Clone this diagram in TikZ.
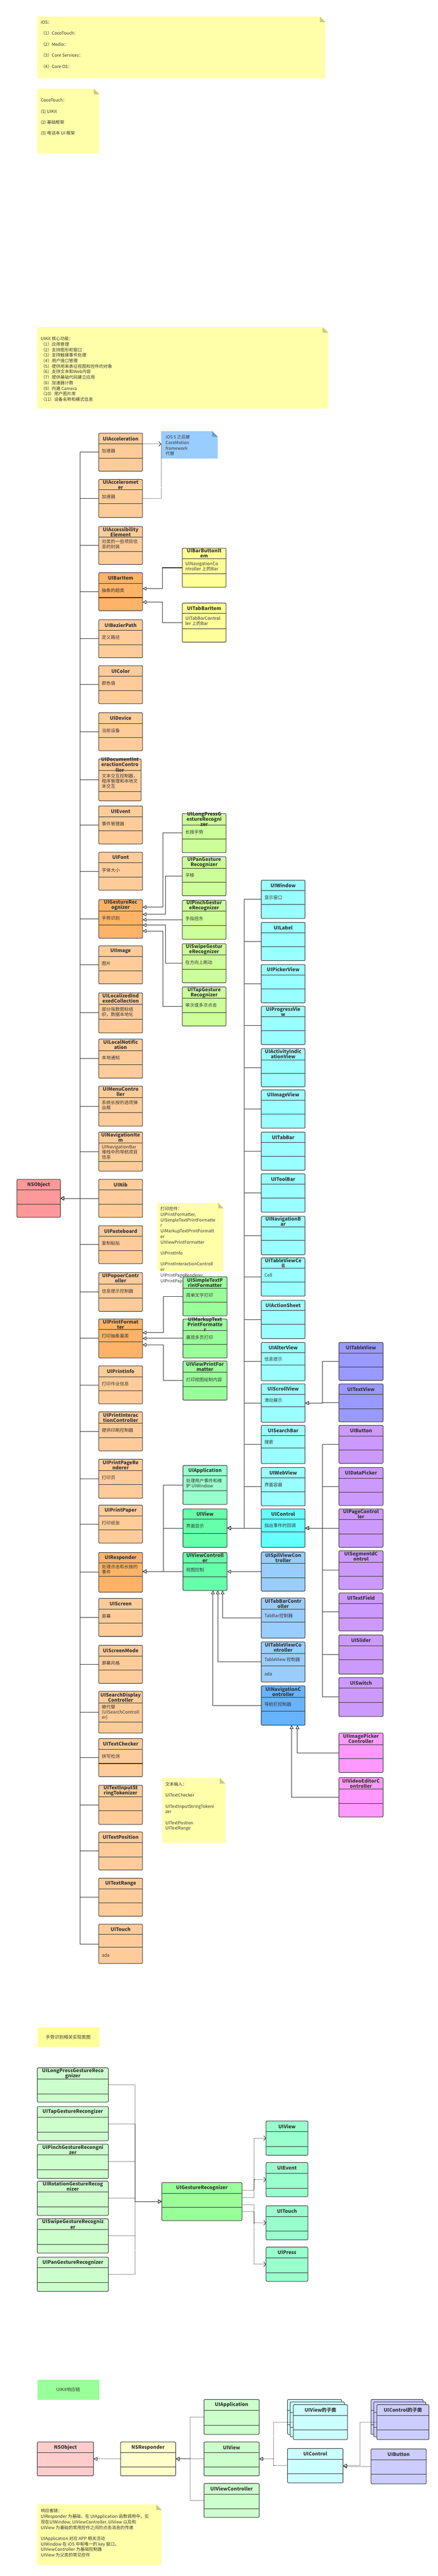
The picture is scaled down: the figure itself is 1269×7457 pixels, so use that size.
\documentclass[tikz,border=0pt]{standalone}
\usepackage{fontspec}
\setmainfont{Noto Sans CJK SC}
\usetikzlibrary{arrows.meta}
\definecolor{linec}{HTML}{333333}
\definecolor{txt}{HTML}{333333}
\definecolor{orL}{HTML}{FFCC99}
\definecolor{orD}{HTML}{FFB366}
\definecolor{yel}{HTML}{FFFF99}
\definecolor{grG}{HTML}{CCFF99}
\definecolor{grP}{HTML}{99FF99}
\definecolor{cyA}{HTML}{99FFFF}
\definecolor{cyB}{HTML}{66FFFF}
\definecolor{grA}{HTML}{99FFCC}
\definecolor{grV}{HTML}{66FFAA}
\definecolor{blA}{HTML}{99CCFF}
\definecolor{blB}{HTML}{66B3FF}
\definecolor{puA}{HTML}{CC99FF}
\definecolor{puB}{HTML}{9999FF}
\definecolor{pkA}{HTML}{FF99FF}
\definecolor{rdA}{HTML}{FF9999}
\definecolor{noteY}{HTML}{FFFFAA}
\definecolor{foldY}{HTML}{CCCC77}
\definecolor{foldB}{HTML}{6699CC}
\definecolor{gsL}{HTML}{CCFFCC}
\definecolor{rdL}{HTML}{FFCCCC}
\definecolor{yeL}{HTML}{FFFFCC}
\definecolor{cyL}{HTML}{CCFFFF}
\definecolor{puL}{HTML}{CCCCFF}
\tikzset{
  clsbox/.style={draw=linec,line width=1.5pt,rounded corners=3pt,inner sep=0pt,outer sep=0pt},
  divline/.style={draw=linec,line width=1.5pt},
  ttl/.style={font=\bfseries\fontsize{14}{15}\selectfont,text=txt,align=center,inner sep=0pt},
  bdy/.style={font=\fontsize{13}{15}\selectfont,text=txt,align=left,anchor=west,inner sep=0pt},
  notetxt/.style={font=\fontsize{12.5}{16}\selectfont,text=txt,align=left,anchor=north west,inner sep=0pt},
  conn/.style={draw=linec,line width=1.5pt},
  gen/.style={conn,-{Triangle[length=11pt,width=11pt,fill=white]}},
  dotln/.style={draw=linec,line width=1.4pt,dash pattern=on 1.4pt off 1.6pt},
  real/.style={dotln,-{Triangle[length=11pt,width=11pt,fill=white]}},
  dep/.style={dotln,-{Straight Barb[length=6pt,width=14pt]}}
}
\pgfkeys{/umlc/.cd,
  w/.store in=\cW, h/.store in=\cH, hh/.store in=\cHH, mh/.store in=\cMH, bot/.store in=\cBot}
% [opts]{name}{x}{y}{fill}{title}{body}
\newcommand\umlcls[7][]{%
  \pgfkeys{/umlc/.cd,w=127,h=110,hh=31,mh=41,bot=,#1}%
  \node[clsbox,fill=#5,minimum width=\cW pt,minimum height=\cH pt,anchor=north west] (#2) at (#3,#4) {};%
  \draw[divline] (#3,#4+\cHH) -- ++(\cW,0);%
  \draw[divline] (#3,#4+\cHH+\cMH) -- ++(\cW,0);%
  \node[ttl] at (#3+\cW/2,#4+\cHH/2) {#6};%
  \node[bdy] at (#3+9,#4+\cHH+\cMH/2) {#7};%
  \ifx\cBot\empty\else\node[bdy] at (#3+9,#4+\cHH/2+\cMH/2+\cH/2) {\cBot};\fi
}
% {name}{x}{y}{w}{h}{fill}{fold}
\newcommand\umlnote[7]{%
  \node[fill=#6,minimum width=#4pt,minimum height=#5pt,anchor=north west,inner sep=0pt,outer sep=0pt] (#1) at (#2,#3) {};%
  \fill[white] ([xshift=-16pt]#1.north east) -- (#1.north east) -- ([yshift=-16pt]#1.north east) -- cycle;%
  \fill[#7] ([xshift=-16pt]#1.north east) -- ([xshift=-16pt,yshift=-16pt]#1.north east) -- ([yshift=-16pt]#1.north east) -- cycle;%
}
\begin{document}
\begin{tikzpicture}[x=1pt,y=-1pt]
\useasboundingbox (0,0) rectangle (1269,7457);
\fill[white] (0,0) rectangle (1269,7457);

% ---------- top notes ----------
\umlnote{note1}{108}{48}{835}{178}{noteY}{foldY}
\node[notetxt,font=\fontsize{12.5}{32}\selectfont] at (118,59.5) {iOS：\\（1）CocoTouch：\\（2）Media：\\（3）Core Services：\\（4）Core OS：};
\umlnote{note2}{108}{257}{180}{188}{noteY}{foldY}
\node[notetxt,font=\fontsize{12.5}{32}\selectfont] at (118,284.5) {CocoTouch：\\(1) UIKit\\(2) 基础框架\\(3) 电话本 UI 框架};
\umlnote{note3}{108}{947}{843}{236}{noteY}{foldY}
\node[notetxt] at (118,974.5) {UIKit 核心功能：\\（1）应用管理\\（2）支持图形和窗口\\（3）支持触摸事件处理\\（4）用户接口管理\\（5）提供用来表征视图和控件的对象\\（6）支持文本和Web内容\\（7）提供基础代码建立应用\\（8）加速器计数\\（9）内建 Camera\\（10）用户图片库\\（11）设备名称和模式信息};

% ---------- blue note ----------
\umlnote{acnote}{467}{1248}{164}{79}{blA}{foldB}
\node[notetxt] at (480,1259.5) {iOS 5 之后被\\CoreMotion\\framework\\代替};

% ---------- print note & text note (drawn before boxes) ----------
\umlnote{printnote}{456}{3482}{192}{197}{noteY}{foldY}
\node[notetxt] at (465,3493.5) {打印控件：\\UIPrintFormatter,\\UISimpleTextPrintFormatte\\r\\UIMarkupTextPrintFormatt\\er\\UIViewPrintFormatter\\~\\UIPrintInfo\\~\\UIPrintInteractionControll\\er\\UIPrintPageRenderer,\\UIPrintPaper};
\umlnote{textnote}{470}{5147}{183}{187}{noteY}{foldY}
\node[notetxt] at (479,5158.5) {文本输入：\\~\\UITextChecker\\~\\UITextInputStringTokeni\\zer\\~\\UITextPostion\\UITextRange};

% ---------- NSObject ----------
\umlcls[w=126]{NSObject}{49}{3414}{rdA}{NSObject}{}

% ---------- orange column ----------
\umlcls{UIAcceleration}{286}{1254}{orL}{UIAcceleration}{加速器}
\umlcls[hh=29]{UIAccelerometer}{286}{1388}{orL}{UIAcceleromet\\er}{加速器}
\umlcls[hh=31]{UIAccessibilityElement}{286}{1524}{orL}{UIAccessibility\\Element}{对类的一些项目信\\息的封装}
\umlcls{UIBarItem}{286}{1658}{orD}{UIBarItem}{抽象的超类}
\umlcls{UIBezierPath}{286}{1794}{orL}{UIBezierPath}{定义路径}
\umlcls{UIColor}{286}{1927}{orL}{UIColor}{颜色值}
\umlcls{UIDevice}{286}{2063}{orL}{UIDevice}{当前设备}
\umlcls[w=123,h=121,hh=34,mh=60]{UIDocumentInteractionController}{286}{2197}{orL}{UIDocumentInt\\eractionContro\\ller}{文本交互控制器，\\程序管理和本地文\\本交互}
\umlcls{UIEvent}{286}{2333}{orL}{UIEvent}{事件管理器}
\umlcls{UIFont}{286}{2467}{orL}{UIFont}{字体大小}
\umlcls[h=112,hh=33]{UIGestureRecognizer}{286}{2604}{orD}{UIGestureRec\\ognizer}{手势识别}
\umlcls{UIImage}{286}{2738}{orL}{UIImage}{图片}
\umlcls[h=116,hh=33,mh=44]{UILocalizedIndexedCollection}{286}{2874}{orL}{UILocalizedInd\\exedCollection}{部分指数图标组\\织，数据本地化}
\umlcls[h=113,hh=33]{UILocalNotification}{286}{3008}{orL}{UILocalNotific\\ation}{本地通知}
\umlcls[h=116,hh=33,mh=44]{UIMenuController}{286}{3144}{orL}{UIMenuContro\\ller}{系统长按的选项弹\\出框}
\umlcls[h=113,hh=31,mh=55]{UINavigationItem}{286}{3277}{orL}{UINavigationIte\\m}{UINavigationBar\\堆栈中的导航项目\\信息}
\umlcls{UINib}{286}{3414}{orL}{UINib}{}
\umlcls{UIPasteboard}{286}{3548}{orL}{UIPasteboard}{复制粘贴}
\umlcls[h=112,hh=33]{UIPopoerController}{286}{3684}{orL}{UIPopoerContr\\oller}{信息提示控制器}
\umlcls[h=113,hh=31,mh=36]{UIPrintFormatter}{286}{3818}{orD}{UIPrintFormat\\ter}{打印抽象基类}
\umlcls{UIPrintInfo}{286}{3954}{orL}{UIPrintInfo}{打印作业信息}
\umlcls[h=113,hh=33]{UIPrintInteractionController}{286}{4087}{orL}{UIPrintInterac\\tionController}{提供印刷控制器}
\umlcls[h=113,hh=33]{UIPrintPageRenderer}{286}{4224}{orL}{UIPrintPageRe\\nderer}{打印页}
\umlcls{UIPrintPaper}{286}{4357}{orL}{UIPrintPaper}{打印纸张}
\umlcls[h=115,hh=30,mh=39]{UIResponder}{286}{4494}{orD}{UIResponder}{处理点击和长按的\\事件}
\umlcls{UIScreen}{286}{4627}{orL}{UIScreen}{屏幕}
\umlcls{UIScreenMode}{286}{4763}{orL}{UIScreenMode}{屏幕风格}
\umlcls[h=121,hh=34,mh=55]{UISearchDisplayController}{286}{4896}{orL}{UISearchDisplay\\Controller}{被代替\\(UISearchControll\\er)}
\umlcls{UITextChecker}{286}{5033}{orL}{UITextChecker}{拼写检测}
\umlcls[h=113,hh=33]{UITextInputStringTokenizer}{286}{5168}{orL}{UITextInputSt\\ringTokenizer}{}
\umlcls{UITextPosition}{286}{5303}{orL}{UITextPosition}{}
\umlcls{UITextRange}{286}{5437}{orL}{UITextRange}{}
\umlcls[h=114,hh=30,mh=36,bot=ada]{UITouch}{286}{5570}{orL}{UITouch}{}

\coordinate (nsbus) at (232,3469);
\foreach \n in {UIAcceleration,UIAccelerometer,UIAccessibilityElement,UIBarItem,UIBezierPath,UIColor,UIDevice,UIDocumentInteractionController,UIEvent,UIFont,UIGestureRecognizer,UIImage,UILocalizedIndexedCollection,UILocalNotification,UIMenuController,UINavigationItem,UINib,UIPasteboard,UIPopoerController,UIPrintFormatter,UIPrintInfo,UIPrintInteractionController,UIPrintPageRenderer,UIPrintPaper,UIResponder,UIScreen,UIScreenMode,UISearchDisplayController,UITextChecker,UITextInputStringTokenizer,UITextPosition,UITextRange,UITouch}
  \draw[gen] (\n.west) -| (nsbus) -- (NSObject.east);

% dependencies to blue note
\draw[dep] ([yshift=-31pt]UIAcceleration.north east) -- ([yshift=-37pt]acnote.north west);
\draw[dotln] (UIAccelerometer.east) -| ([yshift=-37pt]acnote.north west);

% ---------- yellow bar items ----------
\umlcls[h=113,hh=30,mh=44]{UIBarButtonItem}{528}{1587}{yel}{UIBarButtonIt\\em}{UINavigationCo\\ntroller 上的Bar}
\umlcls[h=113,hh=30,mh=44]{UITabBarItem}{528}{1746}{yel}{UITabBarItem}{UITabBarControl\\ler 上的Bar}
\draw[gen] (UIBarButtonItem.west) -- ++(-57,0) |- ([yshift=-46pt]UIBarItem.north east);
\draw[gen] (UITabBarItem.west) -- ++(-57,0) |- ([yshift=-85pt]UIBarItem.north east);

% ---------- gesture recognizers ----------
\umlcls[h=113,hh=33]{UILongPressGestureRecognizer}{528}{2355}{grG}{UILongPressG\\estureRecogni\\zer}{长按手势}
\umlcls[h=113,hh=33]{UIPanGestureRecognizer}{528}{2480}{grG}{UIPanGesture\\Recognizer}{平移}
\umlcls[h=113,hh=32,mh=42]{UIPinchGestureRecognizer}{528}{2606}{grG}{UIPinchGestur\\eRecognizer}{手指扭东}
\umlcls[h=113,hh=33]{UISwipeGestureRecognizer}{528}{2732}{grG}{UISwipeGestur\\eRecognizer}{在方向上刷动}
\umlcls[h=113,hh=33]{UITapGestureRecognizer}{528}{2857}{grG}{UITapGesture\\Recognizer}{单次或多次点击}
\draw[gen] (UILongPressGestureRecognizer.west) -- ++(-56,0) |- ([yshift=-22pt]UIGestureRecognizer.north east);
\draw[gen] (UIPanGestureRecognizer.west) -- ++(-49,0) |- ([yshift=-43pt]UIGestureRecognizer.north east);
\draw[gen] (UIPinchGestureRecognizer.west) -- (UIPinchGestureRecognizer.west -| UIGestureRecognizer.east);
\draw[gen] (UISwipeGestureRecognizer.west) -- ++(-49,0) |- ([yshift=-74pt]UIGestureRecognizer.north east);
\draw[gen] (UITapGestureRecognizer.west) -- ++(-56,0) |- ([yshift=-91pt]UIGestureRecognizer.north east);

% ---------- print formatters ----------
\umlcls[w=128,h=113,hh=33]{UISimpleTextPrintFormatter}{530}{3696}{grP}{UISimpleTextP\\rintFormatter}{简单文字打印}
\umlcls[w=128,h=113,hh=33]{UIMarkupTextPrintFormatter}{530}{3818}{grP}{UIMarkupText\\PrintFormatte\\r}{展现多页打印}
\umlcls[w=128,h=113,hh=33]{UIViewPrintFormatter}{530}{3940}{grP}{UIViewPrintFor\\matter}{打印视图绘制内容}
\draw[gen] (UISimpleTextPrintFormatter.west) -- ++(-56,0) |- ([yshift=-40pt]UIPrintFormatter.north east);
\draw[gen] (UIMarkupTextPrintFormatter.west) -- (UIMarkupTextPrintFormatter.west -| UIPrintFormatter.east);
\draw[gen] (UIViewPrintFormatter.west) -- ++(-56,0) |- ([yshift=-75pt]UIPrintFormatter.north east);

% ---------- application / view / controller ----------
\umlcls[w=128,h=113,hh=30,mh=44]{UIApplication}{530}{4242}{grA}{UIApplication}{处理用户事件和维\\护 UIWindow}
\umlcls[w=128,h=111,hh=30]{UIView}{530}{4368}{grV}{UIView}{界面显示}
\umlcls[w=128,h=110,hh=30]{UIViewController}{530}{4494}{grV}{UIViewControll\\er}{视图控制}
\coordinate (rsbus) at (474,4549);
\draw[gen] (UIApplication.west) -| (rsbus) -- (rsbus -| UIResponder.east);
\draw[gen] (UIView.west) -| (rsbus) -- (rsbus -| UIResponder.east);
\draw[gen] (UIViewController.west) -- (UIViewController.west -| UIResponder.east);

% ---------- cyan views ----------
\umlcls[h=111,hh=30,mh=40]{UIWindow}{757}{2548}{cyA}{UIWindow}{显示窗口}
\umlcls[h=111,hh=30,mh=40]{UILabel}{757}{2670}{cyA}{UILabel}{}
\umlcls[h=111,hh=30,mh=40]{UIPickerView}{757}{2792}{cyA}{UIPickerView}{}
\umlcls[h=111,hh=30,mh=40]{UIProgressView}{757}{2913}{cyA}{UIProgressVie\\w}{}
\umlcls[h=111,hh=33,mh=40]{UIActivityIndicationView}{757}{3035}{cyA}{UIActivityIndic\\ationView}{}
\umlcls[h=111,hh=30,mh=40]{UIImageView}{757}{3155}{cyA}{UIImageView}{}
\umlcls[h=111,hh=30,mh=40]{UITabBar}{757}{3277}{cyA}{UITabBar}{}
\umlcls[h=111,hh=30,mh=40]{UIToolBar}{757}{3398}{cyA}{UIToolBar}{}
\umlcls[h=111,hh=30,mh=40]{UINavigationBar}{757}{3521}{cyA}{UINavigationB\\ar}{}
\umlcls[h=111,hh=30,mh=40]{UITableViewCell}{757}{3641}{cyA}{UITableViewCe\\ll}{Cell}
\umlcls[h=111,hh=30,mh=40]{UIActionSheet}{757}{3764}{cyA}{UIActionSheet}{}
\umlcls[h=111,hh=30,mh=36]{UIAlterView}{757}{3886}{cyA}{UIAlterView}{信息提示}
\umlcls[h=111,hh=30,mh=36]{UIScrollView}{757}{4006}{cyA}{UIScrollView}{滑动展示}
\umlcls[h=111,hh=30,mh=36]{UISearchBar}{757}{4126}{cyA}{UISearchBar}{搜索}
\umlcls[h=111,hh=30,mh=41]{UIWebView}{757}{4248}{cyA}{UIWebView}{界面容器}
\umlcls[h=111,hh=30,mh=36]{UIControl}{757}{4368}{cyB}{UIControl}{指出事件的回调}
\coordinate (cybus) at (708,4423.5);
\foreach \n in {UIWindow,UILabel,UIPickerView,UIProgressView,UIActivityIndicationView,UIImageView,UITabBar,UIToolBar,UINavigationBar,UITableViewCell,UIActionSheet,UIAlterView,UIScrollView,UISearchBar,UIWebView}
  \draw[gen] (\n.west) -| (cybus) -- (UIView.east);
\draw[gen] (UIControl.west) -- (UIView.east);

% ---------- view controllers ----------
\umlcls[h=113,hh=33]{UISpilViewController}{757}{4493}{blA}{UISpilViewCon\\troller}{}
\umlcls[h=116,hh=33,mh=37]{UITabBarController}{757}{4626}{blA}{UITabBarContr\\oller}{TabBar控制器}
\umlcls[h=116,hh=33,mh=36,bot=ada]{UITableViewController}{757}{4753}{blA}{UITableViewCo\\ntroller}{TableView 控制器}
\umlcls[h=114,hh=33]{UINavigationController}{757}{4880}{blB}{UINavigationC\\ontroller}{导航栏控制器}
\draw[gen] (UISpilViewController.west) -- (UISpilViewController.west -| UIViewController.east);
\draw[gen] (UITabBarController.west) -| ([xshift=51pt]UIViewController.south);
\draw[gen] (UITableViewController.west) -| ([xshift=37pt]UIViewController.south);
\draw[gen] (UINavigationController.west) -| ([xshift=23pt]UIViewController.south);

% ---------- purple ----------
\umlcls[w=128]{UITableView}{982}{3886}{puB}{UITableView}{}
\umlcls[w=128]{UITextView}{982}{4006}{puB}{UITextView}{}
\coordinate (scbus) at (934,4061.5);
\foreach \n in {UITableView,UITextView}
  \draw[gen] (\n.west) -| (scbus) -- (UIScrollView.east);
\umlcls[w=128]{UIButton}{982}{4126}{puA}{UIButton}{}
\umlcls[w=128]{UIDataPicker}{982}{4248}{puA}{UIDataPicker}{}
\umlcls[w=128,h=111]{UIPageController}{982}{4368}{puA}{UIPageControl\\ler}{}
\umlcls[w=128,h=112,hh=33]{UISegmentdControl}{982}{4489}{puA}{UISegmentdC\\ontrol}{}
\umlcls[w=128]{UITextField}{982}{4611}{puA}{UITextField}{}
\umlcls[w=128,h=113]{UISlider}{982}{4733}{puA}{UISlider}{}
\umlcls[w=128,h=113]{UISwitch}{982}{4856}{puA}{UISwitch}{}
\coordinate (pubus) at (934,4423.5);
\foreach \n in {UIButton,UIDataPicker,UIPageController,UISegmentdControl,UITextField,UISlider,UISwitch}
  \draw[gen] (\n.west) -| (pubus) -- (UIControl.east);

% ---------- pink ----------
\umlcls[w=128,h=114,hh=33]{UIImagePickerController}{982}{5017}{pkA}{UIImagePicker\\Controller}{}
\umlcls[w=128,h=114,hh=33]{UIVideoEditorController}{982}{5146}{pkA}{UIVideoEditorC\\ontroller}{}
\draw[gen] (UIImagePickerController.west) -| ([xshift=41.5pt]UINavigationController.south);
\draw[gen] (UIVideoEditorController.west) -| ([xshift=24.5pt]UINavigationController.south);

% ================= gesture section =================
\node[fill=yel,minimum width=179pt,minimum height=56pt,anchor=north west,inner sep=0pt,font=\fontsize{13}{15}\selectfont,text=txt] (gtitle) at (108,5869) {手势识别相关实现类图};
\umlcls[w=206,h=99,hh=33,mh=43]{gLongPress}{108}{5986}{gsL}{UILongPressGestureReco\\gnizer}{}
\umlcls[w=206,h=99,hh=31,mh=43]{gTap}{108}{6098}{gsL}{UITapGestureRecongizer}{}
\umlcls[w=206,h=99,hh=31,mh=43]{gPinch}{108}{6207}{gsL}{UIPinchGestureRecongni\\zer}{}
\umlcls[w=206,h=99,hh=31,mh=43]{gRotation}{108}{6314}{gsL}{UIRotationGestureRecog\\nizer}{}
\umlcls[w=206,h=99,hh=31,mh=43]{gSwipe}{108}{6423}{gsL}{UISwipeGestureRecogniz\\er}{}
\umlcls[w=206,h=99,hh=31,mh=43]{gPan}{108}{6534}{gsL}{UIPanGestureRecognizer}{}
\umlcls[w=232,h=110,hh=31,mh=41]{gUIGR}{469}{6318}{grP}{UIGestureRecognizer}{}
\umlcls[w=121,h=99,hh=31,mh=43]{gUIView}{771}{6140}{grA}{UIView}{}
\umlcls[w=121,h=99,hh=31,mh=43]{gUIEvent}{771}{6260}{grA}{UIEvent}{}
\umlcls[w=121,h=99,hh=31,mh=43]{gUITouch}{771}{6385}{grA}{UITouch}{}
\umlcls[w=121,h=99,hh=31,mh=43]{gUIPress}{771}{6505}{grA}{UIPress}{}
\coordinate (gbus) at (391,6373);
\foreach \n in {gLongPress,gTap,gPinch,gRotation,gSwipe,gPan}
  \draw[real] (\n.east) -| (gbus) -- (gUIGR.west);
\draw[dep] ([yshift=-22pt]gUIGR.north east) -- ++(35,0) |- (gUIView.west);
\draw[dep] ([yshift=-44pt]gUIGR.north east) -- ++(35,0) |- (gUIEvent.west);
\draw[dep] ([yshift=-64pt]gUIGR.north east) -- ++(35,0) |- (gUITouch.west);
\draw[dep] ([yshift=-84pt]gUIGR.north east) -- ++(35,0) |- (gUIPress.west);

% ================= UIKit responder chain =================
\node[fill=grP,minimum width=179pt,minimum height=57pt,anchor=north west,inner sep=0pt,font=\fontsize{13}{15}\selectfont,text=txt] (ktitle) at (108,6889) {UIKit响应链};
\umlcls[w=163,h=98,hh=31,mh=42]{kNSObject}{108}{7069}{rdL}{NSObject}{}
\umlcls[w=160,h=98,hh=31,mh=42]{kNSResponder}{349}{7069}{yeL}{NSResponder}{}
\umlcls[w=160,h=98,hh=31,mh=42]{kUIView}{591}{7069}{gsL}{UIView}{}
\umlcls[w=160,h=101,hh=31,mh=43]{kUIApplication}{591}{6946}{gsL}{UIApplication}{}
\umlcls[w=160,h=98,hh=31,mh=42]{kUIViewController}{591}{7189}{gsL}{UIViewController}{}
\umlcls[w=161,h=99,hh=31,mh=42]{kUIControl}{833}{7088}{cyL}{UIControl}{}
\umlcls[w=160,h=101,hh=31,mh=42]{kUIButton}{1075}{7089}{puL}{UIButton}{}
\umlcls[w=157,h=101,hh=31,mh=42]{kVsubA}{833}{6946}{cyL}{}{}
\umlcls[w=157,h=101,hh=31,mh=42]{kVsubB}{841}{6953}{cyL}{}{}
\umlcls[w=157,h=101,hh=31,mh=42]{kVsub}{850}{6961}{cyL}{UIView的子类}{}
\umlcls[w=151,h=101,hh=31,mh=42]{kCsubA}{1075}{6946}{puL}{}{}
\umlcls[w=151,h=101,hh=31,mh=42]{kCsubB}{1083}{6953}{puL}{}{}
\umlcls[w=151,h=101,hh=31,mh=42]{kCsub}{1092}{6961}{puL}{UIControl的子类}{}
\coordinate (krbus) at (551,7118);
\coordinate (kvbus) at (793,7118);
\coordinate (kcbus) at (1043,7137.5);
\draw[real] (kNSResponder.west) -- (kNSObject.east);
\draw[real] (kUIView.west) -- (kNSResponder.east);
\draw[real] (kUIApplication.west) -| (krbus) -- (kNSResponder.east);
\draw[real] (kUIViewController.west) -| (krbus) -- (kNSResponder.east);
\draw[real] (kUIControl.west) -| (kvbus) -- (kUIView.east);
\draw[real] (kVsub.west) -| (kvbus) -- (kUIView.east);
\draw[real] (kUIButton.west) -- (kUIButton.west -| kUIControl.east);
\draw[real] (kCsub.west) -| (kcbus) -- (kUIControl.east);

\umlnote{knote}{108}{7250}{361}{175}{noteY}{foldY}
\node[notetxt] at (118,7262.5) {响应者链：\\UIResponder 为基础，在 UIApplication 函数调用中，实\\现在UIWindow, UIViewController, UIView 以及和\\UIView 为基础的常用控件之间的点击消息的传递\\~\\UIApplication 对应 APP 相关活动\\UIWindow 在 iOS 中有唯一的 key 窗口，\\UIViewController 为基础控制器\\UIView 为父类的常见控件};
\end{tikzpicture}
\end{document}
